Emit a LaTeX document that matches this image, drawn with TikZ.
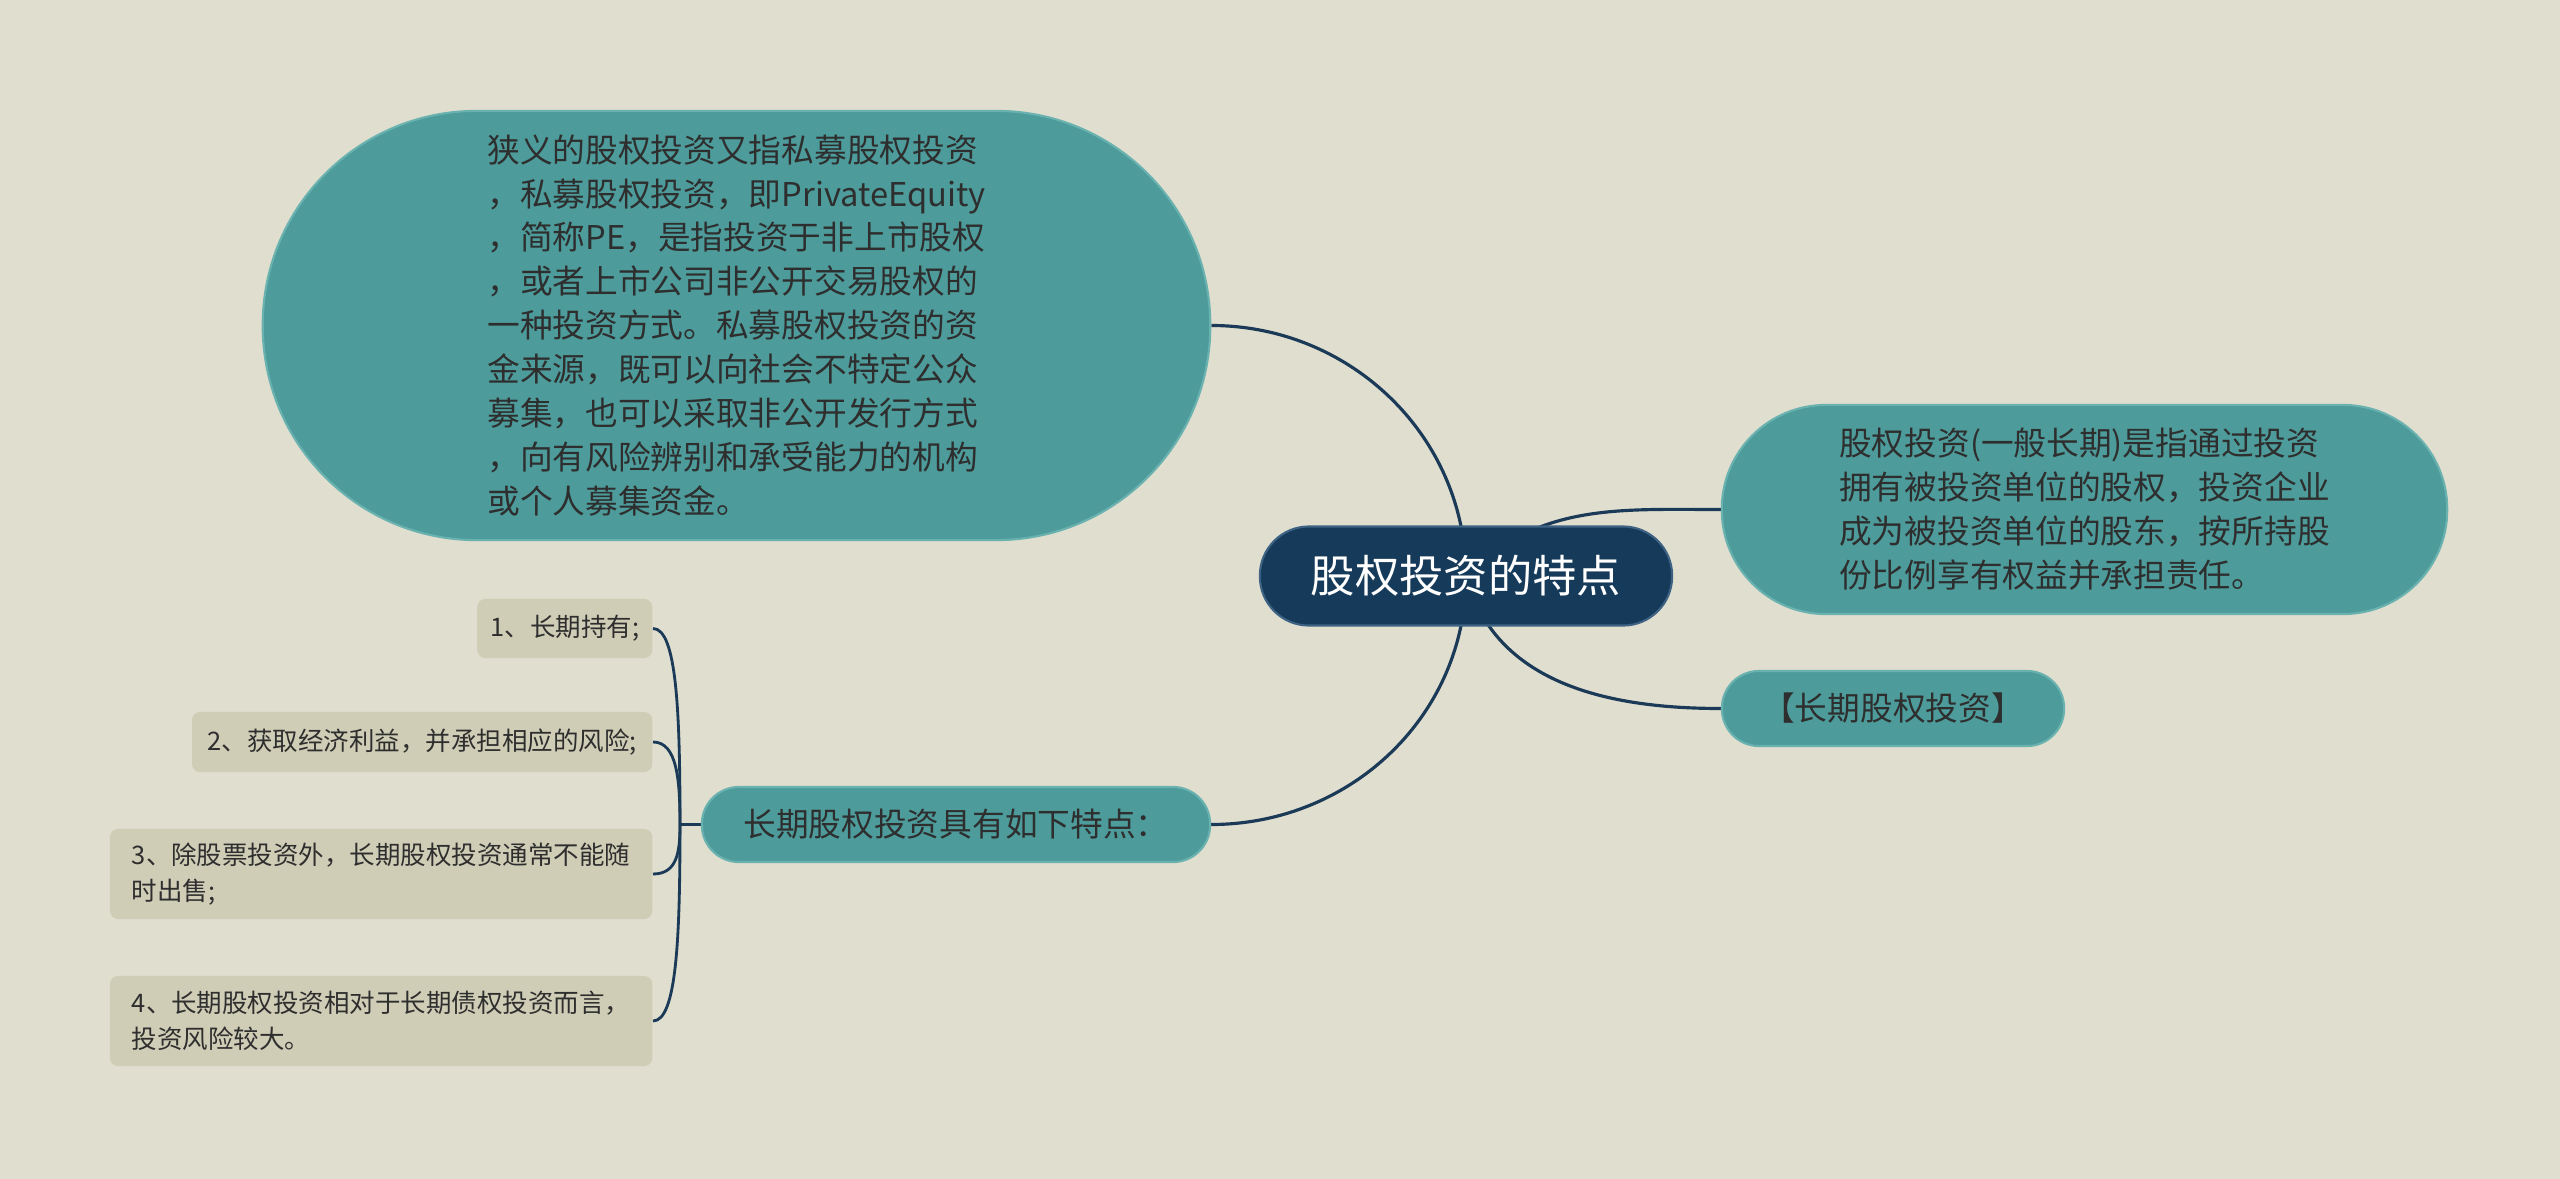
\documentclass[tikz,border=0pt]{standalone}
\usepackage{fontspec}
\setmainfont{Noto Sans CJK SC}
\usepackage{tikz}
\usetikzlibrary{backgrounds}

\definecolor{paper}{HTML}{E0DECF}
\definecolor{navy}{HTML}{163A59}
\definecolor{navyrim}{HTML}{3D6283}
\definecolor{topicfill}{HTML}{4D9C9B}
\definecolor{topicrim}{HTML}{6AB2AF}
\definecolor{sand}{HTML}{D0CDB6}
\definecolor{ink}{HTML}{2E2E2E}
\definecolor{wire}{HTML}{1B3A57}

\begin{document}
\begin{tikzpicture}[x=0.01cm,y=0.01cm,
  central/.style={rectangle,fill=navy,draw=navyrim,line width=0.6pt,text=white,
    font=\fontsize{12.6pt}{15pt}\selectfont,minimum width=4.12cm,minimum height=0.99cm,rounded corners=0.49cm},
  topic/.style={rectangle,fill=topicfill,draw=topicrim,line width=0.6pt,text=ink,
    font=\fontsize{9.3pt}{12.5pt}\selectfont,align=left},
  leaf/.style={rectangle,fill=sand,rounded corners=0.08cm,text=ink,
    font=\fontsize{7.25pt}{10.2pt}\selectfont,align=left,anchor=east},
  link/.style={draw=wire,line width=0.9pt}]

 \useasboundingbox (0,0) rectangle (2560,-1179);

 % root and first level
 \node [central] (root) at (1466,-576) {股权投资的特点};
 \node [topic,minimum width=9.47cm,minimum height=4.29cm,rounded corners=2.14cm] (narrow) at (736.5,-325.5)
   {狭义的股权投资又指私募股权投资\\，私募股权投资，即PrivateEquity\\，简称PE，是指投资于非上市股权\\，或者上市公司非公开交易股权的\\一种投资方式。私募股权投资的资\\金来源，既可以向社会不特定公众\\募集，也可以采取非公开发行方式\\，向有风险辨别和承受能力的机构\\或个人募集资金。};
 \node [topic,minimum width=7.25cm,minimum height=2.09cm,rounded corners=1.04cm] (general) at (2084.5,-509.5)
   {股权投资(一般长期)是指通过投资\\拥有被投资单位的股权，投资企业\\成为被投资单位的股东，按所持股\\份比例享有权益并承担责任。};
 \node [topic,minimum width=3.42cm,minimum height=0.75cm,rounded corners=0.37cm] (longterm) at (1893,-708.5) {【长期股权投资】};
 \node [topic,minimum width=5.08cm,minimum height=0.75cm,rounded corners=0.37cm] (traits) at (956,-824.5) {长期股权投资具有如下特点：};

 % second level
 \foreach \n/\y/\w/\h/\txt in {1/628.5/1.75/0.59/{1、长期持有;},
                               2/742/4.60/0.60/{2、获取经济利益，并承担相应的风险;},
                               3/874/5.42/0.90/{3、除股票投资外，长期股权投资通常不能随\\时出售;},
                               4/1021/5.42/0.90/{4、长期股权投资相对于长期债权投资而言，\\投资风险较大。}}
    \node [leaf,minimum width=\w cm,minimum height=\h cm] (leaf\n) at (653,-\y) {\txt};
 \coordinate (fork) at (680,-824.5);

 \begin{pgfonlayer}{background}
 \fill [paper] (0,0) rectangle (2560,-1179);
 \draw [link] (root.center) to[out=90,in=0] (narrow.east);
 \draw [link] (root.center) to[out=-90,in=0] (traits.east);
 \draw [link] (root.center) to[out=45,in=180] (general.west);
 \draw [link] (root.center) to[out=-75,in=180] (longterm.west);
 \draw [link,line width=0.8pt] (traits.west) -- (fork);
 \foreach \n/\c in {1/110,2/45,3/-28,4/-110}
   \draw [link,line width=0.8pt] (fork) .. controls +(0,\c) and +(24,0) .. (leaf\n.east);
 \end{pgfonlayer}
\end{tikzpicture}
\end{document}
